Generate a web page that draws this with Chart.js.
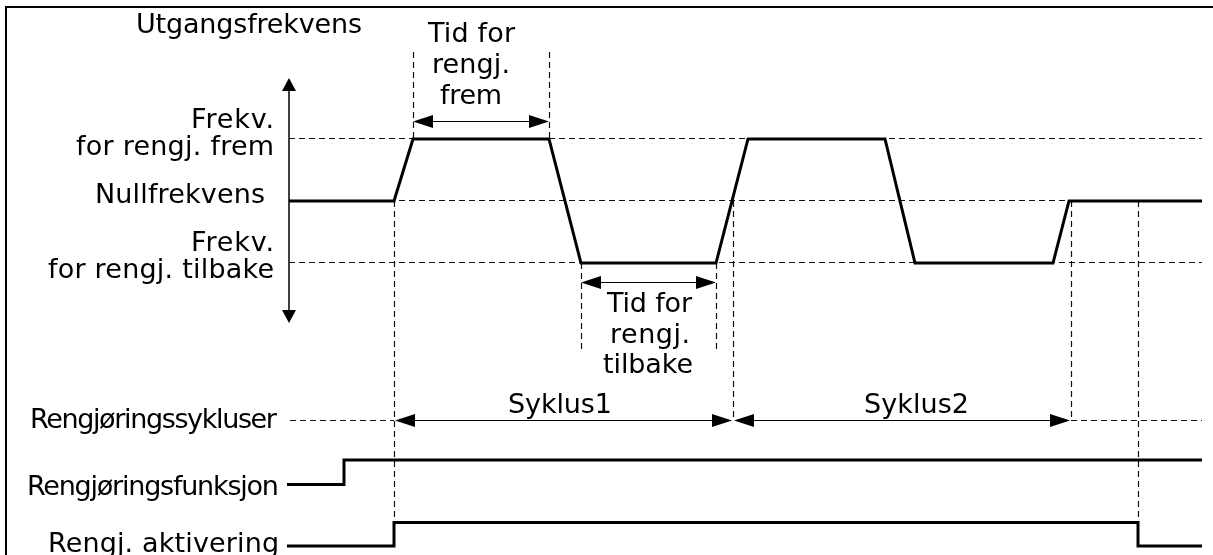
<!DOCTYPE html>
<html>
<head>
<meta charset="utf-8">
<script src="https://cdn.jsdelivr.net/npm/chart.js@4/dist/chart.umd.min.js"></script>
<style>
  html, body { margin: 0; padding: 0; background: #fff; }
  #wrap { width: 1213px; height: 555px; }
</style>
</head>
<body>
<div id="wrap"><canvas id="c" width="1213" height="555"></canvas></div>
<script>
// ---- Data (time in arbitrary units, levels: +1 frem, 0 null, -1 tilbake) ----
const freqTimes  = [0, 105, 124, 260, 292, 427, 459, 596, 626, 764, 780, 913];
const freqLevels = [0,   0,   1,   1,  -1,  -1,   1,   1,  -1,  -1,   0,   0];

const funkTimes  = [-2, 55, 55, 913];
const funkLevels = [ 0,  0,  1,   1];

const aktTimes   = [-2, 105, 105, 849, 849, 913];
const aktLevels  = [ 0,   0,   1,   1,   0,   0];

const cycleBounds = [105, 444, 782];          // Syklus1: 105-444, Syklus2: 444-782
const cycleLabels = ['Syklus1', 'Syklus2'];
const fremWindow   = [124, 260];              // Tid for rengj. frem
const tilbakeWindow = [292, 427];             // Tid for rengj. tilbake
const deactivateTime = 849;
const timeEnd = 913;

const levelLabels = [
  { level: 1,  lines: ['Frekv.', 'for rengj. frem'] },
  { level: 0,  lines: ['Nullfrekvens'] },
  { level: -1, lines: ['Frekv.', 'for rengj. tilbake'] }
];
const signalLabels = ['Rengjøringssykluser', 'Rengjøringsfunksjon', 'Rengj. aktivering'];
const axisTitle = 'Utgangsfrekvens';
const fremLabel = ['Tid for', 'rengj.', 'frem'];
const tilbakeLabel = ['Tid for', 'rengj.', 'tilbake'];

// ---- layout helpers ----
const W = 1213, H = 555;
function range(zeroPx, unitPx) { return { min: (zeroPx - H) / unitPx, max: zeroPx / unitPx }; }
const xR = { min: -289, max: W - 289 };
const fR = range(201, 62);
const funkR = range(484.5, 24.5);
const aktR = range(546, 23.5);
const CYCLE_Y = 420.5;

function pts(ts, vs) { return ts.map((t, i) => ({ x: t, y: vs[i] })); }

const FONT = '27px "DejaVu Sans", Verdana, sans-serif';

function arrowHead(ctx, x, y, dx, dy, len, half) {
  ctx.beginPath();
  ctx.moveTo(x, y);
  ctx.lineTo(x - dx * len - dy * half, y - dy * len + dx * half);
  ctx.lineTo(x - dx * len + dy * half, y - dy * len - dx * half);
  ctx.closePath();
  ctx.fill();
}
function hArrow(ctx, x1, x2, y) {
  ctx.save();
  ctx.strokeStyle = '#000'; ctx.fillStyle = '#000'; ctx.lineWidth = 1.2; ctx.setLineDash([]);
  ctx.beginPath(); ctx.moveTo(x1 + 10, y); ctx.lineTo(x2 - 10, y); ctx.stroke();
  arrowHead(ctx, x1, y, -1, 0, 20, 6.5);
  arrowHead(ctx, x2, y, 1, 0, 20, 6.5);
  ctx.restore();
}
const snap = v => Math.round(v - 0.5) + 0.5;
function dashed(ctx, x1, y1, x2, y2) {
  ctx.save();
  ctx.strokeStyle = '#111'; ctx.lineWidth = 1.2; ctx.setLineDash([6, 4]);
  if (x1 === x2) { x1 = x2 = snap(x1); } else { y1 = y2 = snap(y1); }
  ctx.beginPath(); ctx.moveTo(x1, y1); ctx.lineTo(x2, y2); ctx.stroke();
  ctx.restore();
}
// draw text fitted (by tracking) to span [left, right]
function fitText(ctx, s, left, right, baseline) {
  ctx.save();
  ctx.font = FONT; ctx.fillStyle = '#000'; ctx.textAlign = 'left'; ctx.textBaseline = 'alphabetic';
  const w = ctx.measureText(s).width;
  const target = right - left;
  if ('letterSpacing' in ctx) {
    const n = Math.max(1, s.length - 1);
    ctx.letterSpacing = ((target - w) / n).toFixed(2) + 'px';
    ctx.fillText(s, left, baseline);
  } else {
    ctx.translate(left, baseline);
    ctx.scale(target / w, 1);
    ctx.fillText(s, 0, 0);
  }
  ctx.restore();
}

const diagramPlugin = {
  id: 'diagram',
  beforeDatasetsDraw(chart) {
    const ctx = chart.ctx;
    const X = chart.scales.x, F = chart.scales.yF, AK = chart.scales.yAkt;
    const px = t => X.getPixelForValue(t);
    const yLvl = v => F.getPixelForValue(v);
    const x0 = px(0), xEnd = px(timeEnd);

    // frame
    ctx.save();
    ctx.strokeStyle = '#000'; ctx.lineWidth = 2;
    ctx.beginPath(); ctx.moveTo(6, H); ctx.lineTo(6, 7); ctx.lineTo(W, 7); ctx.stroke();
    ctx.restore();

    // horizontal level guides
    [1, 0, -1].forEach(v => dashed(ctx, x0, yLvl(v), xEnd, yLvl(v)));

    // vertical guides
    const yAktHigh = AK.getPixelForValue(1);
    dashed(ctx, px(cycleBounds[0]), yLvl(0), px(cycleBounds[0]), yAktHigh);
    dashed(ctx, px(fremWindow[0]), 52, px(fremWindow[0]), yLvl(1));
    dashed(ctx, px(fremWindow[1]), 52, px(fremWindow[1]), yLvl(1));
    dashed(ctx, px(tilbakeWindow[0]), yLvl(-1), px(tilbakeWindow[0]), 350);
    dashed(ctx, px(tilbakeWindow[1]), yLvl(-1), px(tilbakeWindow[1]), 350);
    dashed(ctx, px(cycleBounds[1]), yLvl(0), px(cycleBounds[1]), CYCLE_Y);
    dashed(ctx, px(cycleBounds[2]), yLvl(0), px(cycleBounds[2]), CYCLE_Y);
    dashed(ctx, px(deactivateTime), yLvl(0), px(deactivateTime), yAktHigh);

    // cycle row dashed
    dashed(ctx, 290, CYCLE_Y, px(cycleBounds[0]), CYCLE_Y);
    dashed(ctx, px(cycleBounds[2]), CYCLE_Y, xEnd, CYCLE_Y);

    // arrows
    hArrow(ctx, px(fremWindow[0]), px(fremWindow[1]), 121.5);
    hArrow(ctx, px(tilbakeWindow[0]), px(tilbakeWindow[1]), 282.5);
    for (let i = 0; i < cycleBounds.length - 1; i++) {
      hArrow(ctx, px(cycleBounds[i]) + 1, px(cycleBounds[i + 1]) - 1, CYCLE_Y);
    }

    // vertical frequency axis
    ctx.save();
    ctx.strokeStyle = '#000'; ctx.fillStyle = '#000'; ctx.lineWidth = 1.5;
    ctx.beginPath(); ctx.moveTo(x0, 88); ctx.lineTo(x0, 313); ctx.stroke();
    arrowHead(ctx, x0, 78, 0, -1, 13, 7);
    arrowHead(ctx, x0, 323, 0, 1, 13, 7);
    ctx.restore();

    // texts
    fitText(ctx, axisTitle, 136, 362, 33);
    const yf = yLvl(levelLabels[0].level), yn = yLvl(levelLabels[1].level), yt = yLvl(levelLabels[2].level);
    fitText(ctx, levelLabels[0].lines[0], 191, 274, yf - 11.5);
    fitText(ctx, levelLabels[0].lines[1], 76, 274, yf + 16);
    fitText(ctx, levelLabels[1].lines[0], 95, 265, yn + 1.5);
    fitText(ctx, levelLabels[2].lines[0], 191, 274, yt - 12.5);
    fitText(ctx, levelLabels[2].lines[1], 48, 274, yt + 14.5);

    const fremSpans = [[428, 515], [432, 510], [440, 502]];
    fremLabel.forEach((s, i) => fitText(ctx, s, fremSpans[i][0], fremSpans[i][1], 42 + i * 31));
    const tilSpans = [[607, 692], [610, 690], [603, 693]];
    tilbakeLabel.forEach((s, i) => fitText(ctx, s, tilSpans[i][0], tilSpans[i][1], 312 + i * 30.5));

    const cycSpans = [[508, 612], [864, 969]];
    cycleLabels.forEach((s, i) => fitText(ctx, s, cycSpans[i][0], cycSpans[i][1], 413));

    fitText(ctx, signalLabels[0], 30, 277, 427.5);
    fitText(ctx, signalLabels[1], 27, 279, 495);
    fitText(ctx, signalLabels[2], 48, 279, 552);
  }
};

const lineStyle = { borderColor: '#000', borderWidth: 3, pointRadius: 0, tension: 0, fill: false,
                    borderJoinStyle: 'miter', borderCapStyle: 'butt', showLine: true };

new Chart(document.getElementById('c'), {
  type: 'line',
  data: {
    datasets: [
      Object.assign({ label: 'Utgangsfrekvens', data: pts(freqTimes, freqLevels), yAxisID: 'yF' }, lineStyle),
      Object.assign({ label: 'Rengjøringsfunksjon', data: pts(funkTimes, funkLevels), yAxisID: 'yFunk' }, lineStyle),
      Object.assign({ label: 'Rengj. aktivering', data: pts(aktTimes, aktLevels), yAxisID: 'yAkt' }, lineStyle)
    ]
  },
  options: {
    responsive: false,
    devicePixelRatio: 1,
    animation: false,
    layout: { padding: 0 },
    plugins: { legend: { display: false }, tooltip: { enabled: false } },
    scales: {
      x: { type: 'linear', display: false, min: xR.min, max: xR.max },
      yF: { type: 'linear', display: false, min: fR.min, max: fR.max },
      yFunk: { type: 'linear', display: false, min: funkR.min, max: funkR.max },
      yAkt: { type: 'linear', display: false, min: aktR.min, max: aktR.max }
    }
  },
  plugins: [diagramPlugin]
});
</script>
</body>
</html>
